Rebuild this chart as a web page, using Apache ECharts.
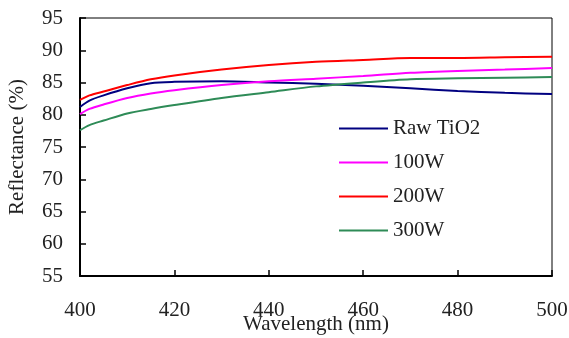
<!DOCTYPE html>
<html>
<head>
<meta charset="utf-8">
<script src="https://cdn.jsdelivr.net/npm/echarts@6/dist/echarts.min.js"></script>
<style>
  html, body { margin: 0; padding: 0; background: #fff; }
  #chart { width: 569px; height: 338px; }
</style>
</head>
<body>
<div id="chart"></div>
<script>
// wavelength (nm) and reflectance (%)
const wavelengths = [400, 402, 405, 410, 415, 420, 430, 440, 450, 460, 470, 480, 490, 500];
const rawTiO2 = [81.2, 82.2, 83.0, 84.1, 84.9, 85.1, 85.2, 85.0, 84.8, 84.5, 84.1, 83.7, 83.4, 83.2];
const w100 = [80.1, 80.9, 81.6, 82.6, 83.3, 83.8, 84.6, 85.2, 85.6, 86.0, 86.5, 86.8, 87.0, 87.25];
const w200 = [82.3, 83.0, 83.6, 84.6, 85.5, 86.1, 87.0, 87.7, 88.2, 88.5, 88.8, 88.8, 88.9, 89.0];
const w300 = [77.6, 78.4, 79.1, 80.2, 80.9, 81.5, 82.6, 83.5, 84.4, 85.0, 85.5, 85.65, 85.75, 85.85];
const seriesNames = ['Raw TiO2', '100W', '200W', '300W'];
const seriesColors = ['#000080', '#ff00ff', '#ff0000', '#2e8b57'];

const font = '"Liberation Serif", "Times New Roman", serif';

function pairs(vals) {
  return wavelengths.map((x, i) => [x, vals[i]]);
}

let myChart = echarts.init(document.getElementById('chart'));
let allVals = [rawTiO2, w100, w200, w300];

let option = {
  animation: false,
  grid: {
    left: 80,
    right: 17,
    top: 18,
    bottom: 62,
    outerBoundsMode: 'none',
    containLabel: false,
    show: true,
    borderColor: '#000',
    borderWidth: 1
  },
  legend: {
    orient: 'vertical',
    left: 339,
    top: 118,
    padding: 0,
    icon: 'rect',
    itemWidth: 49,
    itemHeight: 2,
    itemGap: 13,
    textStyle: { fontFamily: font, fontSize: 21, color: '#222' },
    data: seriesNames
  },
  xAxis: {
    type: 'value',
    min: 400,
    max: 500,
    interval: 20,
    name: 'Wavelength (nm)',
    nameLocation: 'middle',
    nameGap: 38,
    nameMoveOverlap: false,
    nameTextStyle: { fontFamily: font, fontSize: 21, color: '#222' },
    axisLine: { lineStyle: { color: '#000', width: 2 } },
    axisTick: { inside: true, length: 6, lineStyle: { color: '#000', width: 1.5 } },
    axisLabel: { fontFamily: font, fontSize: 21, color: '#222', margin: 24 },
    splitLine: { show: false }
  },
  yAxis: {
    type: 'value',
    min: 55,
    max: 95,
    interval: 5,
    name: 'Reflectance (%)',
    nameLocation: 'middle',
    nameGap: 52,
    nameMoveOverlap: false,
    nameTextStyle: { fontFamily: font, fontSize: 21, color: '#222' },
    axisLine: { lineStyle: { color: '#000', width: 2 } },
    axisTick: { inside: true, length: 6, lineStyle: { color: '#000', width: 1.5 } },
    axisLabel: { fontFamily: font, fontSize: 21, color: '#222', margin: 17 },
    splitLine: { show: false }
  },
  series: seriesNames.map((name, i) => ({
    name: name,
    type: 'line',
    smooth: 0.3,
    symbol: 'none',
    lineStyle: { color: seriesColors[i], width: 2 },
    itemStyle: { color: seriesColors[i] },
    data: pairs(allVals[i])
  }))
};
myChart.setOption(option);
</script>
</body>
</html>
